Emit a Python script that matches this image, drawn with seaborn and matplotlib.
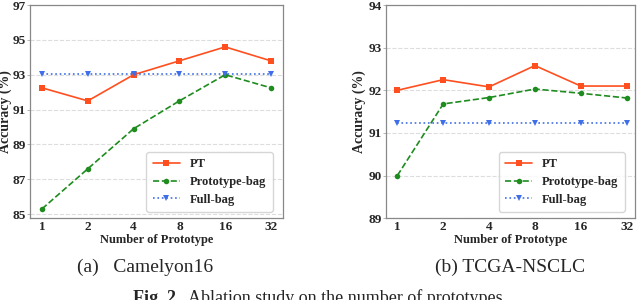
import numpy as np
import pandas as pd
import matplotlib.pyplot as plt
import seaborn as sns

sns.set_theme(style="white")
plt.rcParams['font.family'] = ['Liberation Serif', 'DejaVu Serif']

prototypes = ["1", "2", "4", "8", "16", "32"]

# (a) Camelyon16
cam_pt = [92.25, 91.5, 93.0, 93.8, 94.6, 93.8]
cam_proto_bag = [85.3, 87.6, 89.9, 91.5, 93.0, 92.25]
cam_full_bag = [93.05, 93.05, 93.05, 93.05, 93.05, 93.05]

# (b) TCGA-NSCLC
tcga_pt = [92.0, 92.25, 92.08, 92.58, 92.1, 92.1]
tcga_proto_bag = [90.0, 91.68, 91.83, 92.03, 91.93, 91.82]
tcga_full_bag = [91.23, 91.23, 91.23, 91.23, 91.23, 91.23]

styles = {
    "PT": dict(color="#ff4f1f", marker="s", linestyle="-", markersize=4),
    "Prototype-bag": dict(color="#1e8c1e", marker="o", linestyle="--", markersize=4),
    "Full-bag": dict(color="#3f6fe8", marker="v", linestyle=":", markersize=4),
}


def draw(ax, pt, pb, fb, ylim, yticks, xlim, ylabelpad):
    pos = np.arange(len(prototypes))
    for name, vals in [("PT", pt), ("Prototype-bag", pb), ("Full-bag", fb)]:
        df = pd.DataFrame({"x": pos, "y": vals})
        st = styles[name]
        sns.lineplot(data=df, x="x", y="y", ax=ax, label=name, color=st["color"],
                     marker=st["marker"], markersize=st["markersize"],
                     markeredgewidth=0, linewidth=1.2)
        ax.lines[-1].set_linestyle(st["linestyle"])
    ax.set_xticks(pos)
    ax.set_xticklabels(prototypes)
    ax.set_xlim(*xlim)
    ax.set_ylim(*ylim)
    ax.set_yticks(yticks)
    for t in ax.get_xticklabels() + ax.get_yticklabels():
        t.set_fontweight("bold")
        t.set_fontsize(9.5)
    ax.tick_params(axis="x", length=0, pad=2)
    ax.tick_params(axis="y", length=2, width=0.6, color="#aaaaaa", pad=1, left=True)
    ax.yaxis.grid(True, linestyle="--", color="#dddddd", linewidth=0.8)
    ax.set_axisbelow(True)
    for s in ax.spines.values():
        s.set_color("#888888")
        s.set_linewidth(0.9)
    ax.set_xlabel("Number of Prototype", fontweight="bold", fontsize=9, labelpad=1)
    ax.set_ylabel("Accuracy (%)", fontweight="bold", fontsize=10, labelpad=ylabelpad)
    leg = ax.legend(loc="lower right", prop={"weight": "bold", "size": 9},
                    frameon=True, fancybox=True, handlelength=2.2,
                    borderpad=0.5, labelspacing=0.45, bbox_to_anchor=(0.985, 0.0))
    leg.get_frame().set_edgecolor("#cccccc")
    for line in leg.get_lines():
        line.set_linewidth(1.2)


fig = plt.figure(figsize=(6.4, 3.0), dpi=100)
ax1 = fig.add_axes([0.047, 0.273, 0.395, 0.71])
ax2 = fig.add_axes([0.603, 0.273, 0.389, 0.71])

draw(ax1, cam_pt, cam_proto_bag, cam_full_bag, (84.77, 97), [85, 87, 89, 91, 93, 95, 97], (-0.26, 5.26), 0.5)
draw(ax2, tcga_pt, tcga_proto_bag, tcga_full_bag, (89, 94), [89, 90, 91, 92, 93, 94], (-0.25, 5.18), 2)

fig.text(0.226, 0.11, "(a)   Camelyon16", ha="center", va="center", fontsize=14)
fig.text(0.797, 0.11, "(b) TCGA-NSCLC", ha="center", va="center", fontsize=14)
fig.text(0.208, 0.005, "Fig. 2.", ha="left", va="center", fontsize=13, fontweight="bold")
fig.text(0.294, 0.005, "Ablation study on the number of prototypes.", ha="left", va="center", fontsize=13)

fig.savefig("out.png", dpi=100)
